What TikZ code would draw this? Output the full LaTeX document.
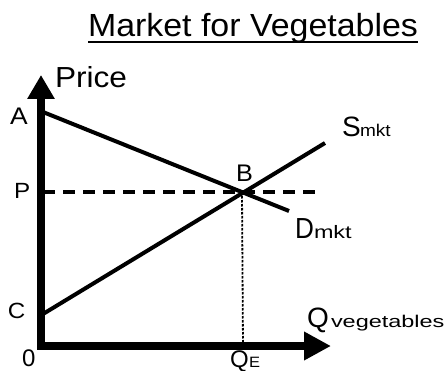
\documentclass[tikz,border=0pt]{standalone}
\usepackage{fontspec}
\setmainfont{Liberation Sans}
\usepackage{graphicx}
\usetikzlibrary{arrows.meta}
\newcommand{\mylbl}[3]{\scalebox{#2}[1]{\fontsize{#1}{#1}\selectfont #3}}
\tikzset{
  lbl/.style={inner sep=0pt, outer sep=0pt, anchor=base west},
  axisline/.style={line width=8pt, line join=miter,
    {Triangle[length=24pt,width=26pt]}-{Triangle[length=27pt,width=27pt]}},
  curve/.style={line width=4pt},
  pricedash/.style={line width=3.5pt, dash pattern=on 12pt off 8pt},
  qdot/.style={line width=1.8pt, dash pattern=on 2.5pt off 1.5pt}
}
\begin{document}
\begin{tikzpicture}[x=1pt,y=-1pt]
\useasboundingbox[fill=white] (0,0) rectangle (446,371);
% title
\node[lbl] (title) at (88,37) {\mylbl{32}{1.06}{Market for Vegetables}};
\draw[line width=2.5pt] ([yshift=-5pt]title.base west) -- ([yshift=-5pt]title.base east);
% coordinates
\coordinate (ytip) at (41,75);
\coordinate (orig) at (41,346);
\coordinate (xtip) at (331,346);
\coordinate (Apt) at (43,112);
\coordinate (Dend) at (289,211);
\coordinate (Cpt) at (43,314);
\coordinate (Send) at (325,143);
\coordinate (Ppt) at (43,192);
\coordinate (Pend) at (317,192);
\coordinate (Bpt) at (242,192);
\coordinate (QEpt) at (243,346);
% curves
\draw[pricedash] (Ppt) -- (Pend);
\draw[qdot] (Bpt) -- (QEpt);
\draw[curve] (Apt) -- (Dend);
\draw[curve] (Cpt) -- (Send);
% axes
\draw[axisline] (ytip) -- (orig) -- (xtip);
% labels
\node[lbl] (price) at (55,88) {\mylbl{29}{1.09}{Price}};
\node[lbl] (A) at (10,125) {\mylbl{24}{1.1}{A}};
\node[lbl] (P) at (14,198) {\mylbl{22}{1.1}{P}};
\node[lbl] (C) at (8,318) {\mylbl{22}{1.1}{C}};
\node[lbl] (B) at (236,182) {\mylbl{24}{1.05}{B}};
\node[lbl] (zero) at (22,366) {\mylbl{24}{1.0}{0}};
\node[lbl] (S) at (342,137) {\mylbl{28}{1.0}{S}};
\node[lbl] (Ssub) at (360,137) {\mylbl{17}{1.12}{mkt}};
\node[lbl] (D) at (295,238) {\mylbl{29}{0.9}{D}};
\node[lbl] (Dsub) at (314,238) {\mylbl{18}{1.3}{mkt}};
\node[lbl] (Q) at (307,327) {\mylbl{28}{1.0}{Q}};
\node[lbl] (Qsub) at (331,327) {\mylbl{17}{1.38}{vegetables}};
\node[lbl] (QE) at (230,367) {\mylbl{24}{1.0}{Q}};
\node[lbl] (QEsub) at (249,367) {\mylbl{15}{1.1}{E}};
\end{tikzpicture}
\end{document}
